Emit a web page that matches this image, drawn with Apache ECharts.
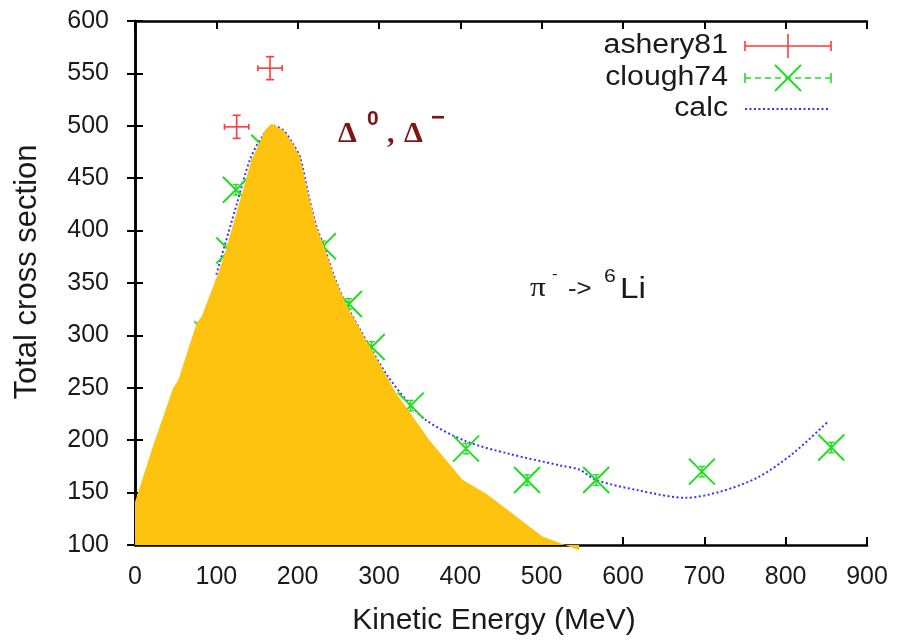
<!DOCTYPE html>
<html><head><meta charset="utf-8">
<script src="https://cdn.jsdelivr.net/npm/echarts@6/dist/echarts.min.js"></script>
<style>html,body{margin:0;padding:0;background:#fff}#c{width:900px;height:642px}</style>
</head><body><div id="c"></div>
<script>
// ---- data ----
const xMin = 0, xMax = 900, xStep = 100;
const yMin = 100, yMax = 600, yStep = 50;

// ashery81 (red, with x and y error bars)
const asheryE  = [125, 166];
const asheryS  = [499, 555];
const asheryDE = [15, 15];
const asheryDS = [11, 11];

// clough74 (green X markers)
const cloughE  = [89, 116, 124, 159, 187, 231, 263, 291, 339, 407, 482, 567, 697, 856];
const cloughS  = [301, 381, 439, 479, 458, 385, 330, 289, 233, 192, 162, 162, 170, 193];
const cloughDS = [5, 5, 5, 5, 5, 5, 5, 5, 5, 5, 5, 5, 5, 5];

// calc (blue dotted curve)
const calcE = [100, 110, 125, 141, 155, 170, 182, 194, 203, 213, 223, 231, 246, 260, 289, 310, 334, 358, 407, 460, 522, 546, 567, 620, 677, 720, 767, 810, 851];
const calcS = [358, 385, 425, 467, 488, 500, 496, 483, 470, 435, 404, 388, 354, 329, 289, 262, 238, 219, 199, 187, 176, 172, 162, 152, 145, 151, 165, 188, 217];

// filled orange region (upper edge)
const fillE = [0, 22, 47, 53, 76, 82, 84, 104, 113, 143, 146, 160, 168, 182, 194, 203, 213, 223, 231, 246, 260, 289, 321, 362, 403, 432, 501, 546];
const fillS = [141, 194, 250, 257, 312, 318, 322, 363, 385, 467, 472, 496, 502, 496, 483, 470, 435, 404, 388, 354, 329, 289, 245, 200, 162, 149, 108, 95];

// ---- colours / styles ----
const RED = '#ff3a3a', GREEN = '#22dd22', BLUE = '#3434ff', ORANGE = '#fec30f';
const FONT = 'Liberation Sans, Arial, Helvetica, sans-serif';
const SERIF = 'Liberation Serif, Times New Roman, serif';
const TXT = '#1a1a1a';
const DARKRED = '#7f1414';

const zip = (a, b, c, d) => a.map((v, i) => d ? [v, b[i], c[i], d[i]] : (c ? [v, b[i], c[i]] : [v, b[i]]));

const chart = echarts.init(document.getElementById('c'), null, {renderer: 'canvas'});

const axisLineStyle = {show: true, lineStyle: {color: '#000', width: 2.5}};
const tickStyle = {show: true, inside: true, length: 8, lineStyle: {color: '#000', width: 2}};

function xAxisCfg(pos, labels) {
  return {
    type: 'value', position: pos, min: xMin, max: xMax, interval: xStep,
    axisLine: axisLineStyle, axisTick: tickStyle, splitLine: {show: false},
    axisLabel: {show: labels, fontSize: 25, color: TXT, fontFamily: FONT, margin: 20},
    name: labels ? 'Kinetic Energy (MeV)' : '', nameLocation: 'middle', nameGap: 61,
    nameTextStyle: {fontSize: 30, color: TXT, fontFamily: FONT, padding: [0, 14, 0, 0]}
  };
}
function yAxisCfg(pos, labels) {
  return {
    type: 'value', position: pos, min: yMin, max: yMax, interval: yStep,
    axisLine: axisLineStyle, axisTick: tickStyle, splitLine: {show: false},
    axisLabel: {show: labels, fontSize: 25, color: TXT, fontFamily: FONT, margin: 26},
    name: labels ? 'Total cross section' : '', nameLocation: 'middle', nameGap: 92,
    nameTextStyle: {fontSize: 31, color: TXT, fontFamily: FONT, padding: [0, 0, 0, 22]}
  };
}

function line(x1, y1, x2, y2, stroke, w, dash) {
  const s = {stroke: stroke, lineWidth: w || 1.5};
  if (dash) s.lineDash = dash;
  return {type: 'line', shape: {x1, y1, x2, y2}, style: s};
}
function txt(text, x, y, size, opts) {
  opts = opts || {};
  return {
    type: 'text', x: x, y: y, z: 10, scaleX: opts.sx || 1,
    style: {
      text: text, fontSize: size, fontFamily: opts.family || FONT, fontWeight: opts.weight || 'normal',
      fill: opts.fill || TXT, textAlign: opts.align || 'left', textVerticalAlign: opts.valign || 'bottom'
    }
  };
}

const option = {
  animation: false,
  backgroundColor: '#fff',
  grid: {left: 135, right: 33, top: 21, bottom: 97, containLabel: false},
  xAxis: [xAxisCfg('bottom', true), xAxisCfg('top', false)],
  yAxis: [yAxisCfg('left', true), yAxisCfg('right', false)],
  series: [
    {
      name: 'clough74', type: 'custom', z: 3, clip: false,
      encode: {x: 0, y: 1},
      data: zip(cloughE, cloughS, cloughDS),
      renderItem: function (params, api) {
        const x = api.value(0), y = api.value(1), e = api.value(2);
        const c = api.coord([x, y]);
        const t = api.coord([x, y + e]), b = api.coord([x, y - e]);
        const h = 13;
        return {type: 'group', children: [
          line(c[0] - h, c[1] - h, c[0] + h, c[1] + h, GREEN, 2),
          line(c[0] - h, c[1] + h, c[0] + h, c[1] - h, GREEN, 2),
          line(c[0], t[1], c[0], b[1], GREEN, 1.4),
          line(c[0] - 3, t[1], c[0] + 3, t[1], GREEN, 1.4),
          line(c[0] - 3, b[1], c[0] + 3, b[1], GREEN, 1.4)
        ]};
      }
    },
    {
      name: 'calc', type: 'line', z: 2, smooth: 0.3, showSymbol: false, symbol: 'none',
      data: zip(calcE, calcS),
      lineStyle: {color: BLUE, width: 2, type: [2, 2.5]}
    },
    {
      name: 'fill', type: 'line', z: 4, showSymbol: false, symbol: 'none', clip: false,
      data: zip(fillE, fillS),
      lineStyle: {width: 0, color: ORANGE},
      itemStyle: {color: ORANGE},
      areaStyle: {color: ORANGE, opacity: 1, origin: 'start'}
    },
    {
      name: 'ashery81', type: 'custom', z: 5, clip: false,
      encode: {x: 0, y: 1},
      data: zip(asheryE, asheryS, asheryDE, asheryDS),
      renderItem: function (params, api) {
        const x = api.value(0), y = api.value(1), dx = api.value(2), dy = api.value(3);
        const c = api.coord([x, y]);
        const l = api.coord([x - dx, y]), r = api.coord([x + dx, y]);
        const t = api.coord([x, y + dy]), b = api.coord([x, y - dy]);
        return {type: 'group', children: [
          line(l[0], c[1], r[0], c[1], RED, 1.6),
          line(c[0], t[1], c[0], b[1], RED, 1.6),
          line(c[0] - 4, t[1], c[0] + 4, t[1], RED, 1.6),
          line(c[0] - 4, b[1], c[0] + 4, b[1], RED, 1.6),
          line(l[0], c[1] - 3, l[0], c[1] + 3, RED, 1.6),
          line(r[0], c[1] - 3, r[0], c[1] + 3, RED, 1.6)
        ]};
      }
    }
  ],
  graphic: [
    // legend texts
    txt('ashery81', 728, 46, 27, {align: 'right', valign: 'middle', sx: 1.12}),
    txt('clough74', 728, 78, 27, {align: 'right', valign: 'middle', sx: 1.12}),
    txt('calc', 728, 109, 27, {align: 'right', valign: 'middle', sx: 1.12}),
    // legend samples
    {type: 'group', z: 10, children: [
      line(745, 46, 831, 46, RED, 1.6),
      line(745, 41, 745, 51, RED, 1.6),
      line(831, 41, 831, 51, RED, 1.6),
      line(788, 34, 788, 58, RED, 1.6),
      line(745, 78, 831, 78, GREEN, 1.6, [6, 4]),
      line(745, 73, 745, 83, GREEN, 1.6),
      line(831, 73, 831, 83, GREEN, 1.6),
      line(775, 65, 801, 91, GREEN, 2),
      line(775, 91, 801, 65, GREEN, 2),
      line(745, 109, 828, 109, BLUE, 2, [2, 2.5])
    ]},
    // annotation: Δ0, Δ−
    txt('Δ', 338, 149, 30, {family: SERIF, weight: 'bold', fill: DARKRED}),
    txt('0', 367, 130, 21, {weight: 'bold', fill: DARKRED}),
    txt(',', 387, 149, 30, {family: SERIF, weight: 'bold', fill: DARKRED}),
    txt('Δ', 404, 149, 30, {family: SERIF, weight: 'bold', fill: DARKRED}),
    txt('−', 431, 130, 24, {weight: 'bold', fill: DARKRED}),
    // annotation: π- -> 6Li
    txt('π', 530, 303, 28, {family: SERIF, sx: 1.12}),
    txt('-', 552, 282, 15, {sx: 1.12}),
    txt('->', 568, 301, 23, {sx: 1.12}),
    txt('6', 604, 286, 19, {sx: 1.12}),
    txt('Li', 620, 304, 29, {sx: 1.15})
  ]
};
chart.setOption(option);
</script>
</body></html>
